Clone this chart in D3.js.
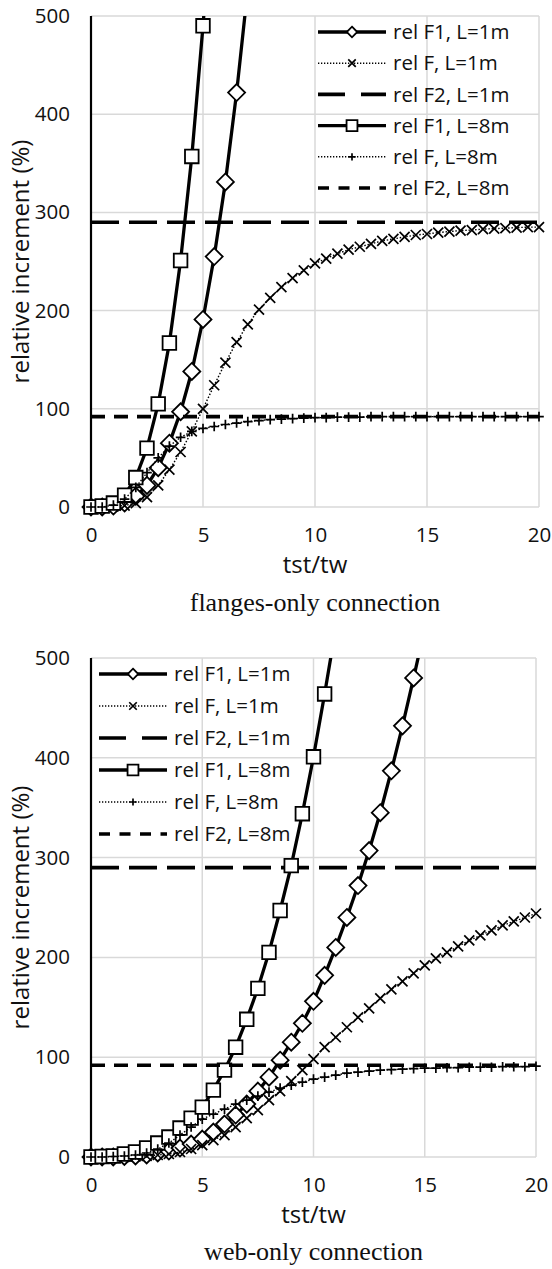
<!DOCTYPE html>
<html>
<head>
<meta charset="utf-8">
<script src="https://cdn.jsdelivr.net/npm/d3@7"></script>
<style>
  html, body { margin: 0; padding: 0; background: #fff; }
  svg { display: block; }
</style>
</head>
<body>
<svg id="chart" width="552" height="1269"></svg>
<script>
// ---------------- DATA ----------------
// x values (tst/tw)
const tstTw = [0,0.5,1,1.5,2,2.5,3,3.5,4,4.5,5,5.5,6,6.5,7,7.5,8,8.5,9,9.5,10,
               10.5,11,11.5,12,12.5,13,13.5,14,14.5,15,15.5,16,16.5,17,17.5,18,18.5,19,19.5,20];
const xTicks = [0, 5, 10, 15, 20];
const yTicks = [0, 100, 200, 300, 400, 500];

const seriesNames = ["rel F1, L=1m", "rel F, L=1m", "rel F2, L=1m", "rel F1, L=8m", "rel F, L=8m", "rel F2, L=8m"];

// ---- flanges-only connection ----
const flangeF1_1m = [0,0,1,4,11,22,40,65,97,138,191,255,331,422,528];
const flangeF_1m  = [0,0,0.5,1.5,4,10,22,38,56,77,100,124,147,168,186,201,213,224,233,241,248,
                     253,258,262,265,268,271,273,275,277,278,279.5,280.5,281.5,282,283,283.5,284,284.5,285,285];
const flangeF2_1m = 290;
const flangeF1_8m = [0,1,4,12,30,60,105,167,251,357,490,640];
const flangeF_8m  = [0,0,2,8,20,35,50,62,71,77,80,82,84,85.5,87,88,89,89.5,90,90.5,91,
                     91,91.5,91.5,91.5,92,92,92,92,92,92,92,92,92,92,92,92,92,92,92,92];
const flangeF2_8m = 92;

// ---- web-only connection ----
const webF1_1m = [0,0,0,0.5,1,2,4,6,9,13,18,25,33,42,53,66,80,97,115,134,156,182,210,240,272,307,345,387,432,480,530];
const webF_1m  = [0,0,0,0,0.5,1,2,3,5,8,12,17,22,30,39,47,57,66,76,87,98,
                  110,120,130,140,149,159,168,176,184,192,199,205,211,217,222,227,232,236,240,244];
const webF2_1m = 290;
const webF1_8m = [0,0.5,1,3,5,9,14,20,29,39,50,67,87,110,138,169,205,247,292,344,401,464,530];
const webF_8m  = [0,0,0.5,1,2,4,8,14,22,30,38,43,48,53,57,61,65,69,72,75,78,
                  80,82,84,85,86,87,87.5,88,88.5,89,89,89.5,89.5,90,90,90,90.5,90.5,90.5,91];
const webF2_8m = 92;

const captions = ["flanges-only connection", "web-only connection"];
const xTitle = "tst/tw";
const yTitle = "relative increment (%)";

// ---------------- DRAWING ----------------
const svg = d3.select("#chart");
const SANS = "'Open Sans', 'Noto Sans', sans-serif";
const SERIF = "'Liberation Serif', 'DejaVu Serif', serif";

const styles = [
  {kind: "solid",  marker: "diamond"},
  {kind: "dotted", marker: "x"},
  {kind: "long",   marker: null},
  {kind: "solid",  marker: "square"},
  {kind: "dotted", marker: "plus"},
  {kind: "short",  marker: null}
];

function lineAttrs(sel, kind) {
  sel.attr("fill", "none").attr("stroke", "#000");
  if (kind === "solid") sel.attr("stroke-width", 3.3);
  if (kind === "dotted") sel.attr("stroke-width", 1.4).attr("stroke-dasharray", "1.5,1.8");
  if (kind === "long") sel.attr("stroke-width", 3.6).attr("stroke-dasharray", "28,10");
  if (kind === "short") sel.attr("stroke-width", 3.6).attr("stroke-dasharray", "14,9");
}

function markerPath(type, cx, cy, s) {
  if (type === "diamond") {
    const h = 8.5 * s, v = 8.5 * s;
    return `M${cx},${cy - v}L${cx + h},${cy}L${cx},${cy + v}L${cx - h},${cy}Z`;
  }
  if (type === "square") {
    const h = 6.8 * s;
    return `M${cx - h},${cy - h}H${cx + h}V${cy + h}H${cx - h}Z`;
  }
  if (type === "x") {
    const h = 5 * s;
    return `M${cx - h},${cy - h}L${cx + h},${cy + h}M${cx - h},${cy + h}L${cx + h},${cy - h}`;
  }
  if (type === "plus") {
    const h = 4.8 * s;
    return `M${cx - h},${cy}H${cx + h}M${cx},${cy - h}V${cy + h}`;
  }
  return "";
}

function drawMarker(g, type, cx, cy, s) {
  const p = g.append("path").attr("d", markerPath(type, cx, cy, s)).attr("stroke", "#000");
  if (type === "diamond" || type === "square") {
    p.attr("fill", "#fff").attr("stroke-width", 1.8);
  } else {
    p.attr("fill", "none").attr("stroke-width", 1.7);
  }
}

function drawPanel(cfg) {
  const x = d3.scaleLinear().domain([0, 20]).range([cfg.x0, cfg.x1]);
  const y = d3.scaleLinear().domain([0, 500]).range([cfg.y0, cfg.y1]);
  const g = svg.append("g");
  const clipId = "clip" + cfg.id;

  svg.append("clipPath").attr("id", clipId)
    .append("rect")
    .attr("x", cfg.x0 - 20).attr("y", cfg.y1)
    .attr("width", cfg.x1 - cfg.x0 + 40).attr("height", cfg.y0 - cfg.y1 + 20);

  // gridlines
  const grid = g.append("g").attr("stroke", "#d9d9d9").attr("stroke-width", 1.5);
  yTicks.forEach(t => {
    grid.append("line").attr("x1", cfg.x0).attr("x2", cfg.x1).attr("y1", y(t)).attr("y2", y(t));
  });
  xTicks.filter(t => t > 0).forEach(t => {
    grid.append("line").attr("x1", x(t)).attr("x2", x(t)).attr("y1", cfg.y0).attr("y2", cfg.y1);
  });

  // axis tick labels
  const ya = g.append("g").attr("transform", `translate(${cfg.x0},0)`)
    .call(d3.axisLeft(y).tickValues(yTicks).tickSize(0).tickPadding(21).tickFormat(d3.format("d")));
  ya.select(".domain").remove();
  ya.selectAll("text").attr("font-family", SANS).attr("font-size", 20.5).attr("fill", "#111");

  const xa = g.append("g").attr("transform", `translate(0,${cfg.y0})`)
    .call(d3.axisBottom(x).tickValues(xTicks).tickSize(0).tickPadding(20.5).tickFormat(d3.format("d")));
  xa.select(".domain").remove();
  xa.selectAll("text").attr("font-family", SANS).attr("font-size", 20.5).attr("fill", "#111");

  // y axis line
  g.append("line").attr("x1", cfg.x0).attr("x2", cfg.x0).attr("y1", cfg.y0).attr("y2", cfg.y1)
    .attr("stroke", "#000").attr("stroke-width", 2.2);

  // titles
  g.append("text").attr("x", (cfg.x0 + cfg.x1) / 2).attr("y", cfg.y0 + cfg.xTitleDy)
    .attr("text-anchor", "middle").attr("font-family", SANS).attr("font-size", 24).attr("fill", "#111")
    .text(xTitle);
  g.append("text")
    .attr("transform", `translate(${cfg.yTitleX},${(cfg.y0 + cfg.y1) / 2}) rotate(-90)`)
    .attr("text-anchor", "middle").attr("font-family", SANS).attr("font-size", 24).attr("fill", "#111")
    .text(yTitle);
  g.append("text").attr("x", (cfg.x0 + cfg.x1) / 2).attr("y", cfg.y0 + cfg.captionDy)
    .attr("text-anchor", "middle").attr("font-family", SERIF).attr("font-size", 26).attr("fill", "#111")
    .text(cfg.caption);

  // series
  const line = d3.line().x(d => x(d[0])).y(d => y(d[1]));
  cfg.series.forEach((s, i) => {
    const st = styles[i];
    const sg = g.append("g");
    let pts;
    if (Array.isArray(s)) {
      pts = s.map((v, k) => [tstTw[k], v]);
    } else {
      pts = [[0, s], [20, s]];
    }
    sg.append("path").attr("d", line(pts)).attr("clip-path", `url(#${clipId})`).call(lineAttrs, st.kind);
    if (st.marker) {
      pts.filter(p => p[1] <= 500).forEach(p => drawMarker(sg, st.marker, x(p[0]), y(p[1]), 1));
    }
  });

  // legend
  const lg = g.append("g");
  seriesNames.forEach((name, i) => {
    const st = styles[i];
    const ly = cfg.legY + i * cfg.legStep;
    const ll = lg.append("line").attr("x1", cfg.legX).attr("x2", cfg.legX + 68).attr("y1", ly).attr("y2", ly);
    lineAttrs(ll, st.kind);
    if (st.kind === "long") ll.attr("stroke-dasharray", "27,16");
    if (st.kind === "short") ll.attr("stroke-dasharray", "11,9.5");
    if (st.kind === "dotted") ll.attr("stroke-dasharray", "1.3,1.7");
    if (st.marker) drawMarker(lg, st.marker, cfg.legX + 34, ly, st.marker === "diamond" ? 0.62 : (st.marker === "square" ? 0.8 : 0.75));
    lg.append("text").attr("x", cfg.legX + 75).attr("y", ly).attr("dy", "0.35em")
      .attr("font-family", SANS).attr("font-size", 20.5).attr("fill", "#111").text(name);
  });
}

drawPanel({
  id: "top", x0: 91, x1: 539, y0: 507, y1: 16,
  yTitleX: 29, xTitleDy: 66, captionDy: 104, caption: captions[0],
  legX: 318, legY: 32, legStep: 31.2,
  series: [flangeF1_1m, flangeF_1m, flangeF2_1m, flangeF1_8m, flangeF_8m, flangeF2_8m]
});

drawPanel({
  id: "bot", x0: 91, x1: 536, y0: 1157, y1: 658,
  yTitleX: 29, xTitleDy: 66, captionDy: 103, caption: captions[1],
  legX: 99, legY: 674, legStep: 32,
  series: [webF1_1m, webF_1m, webF2_1m, webF1_8m, webF_8m, webF2_8m]
});
</script>
</body>
</html>
